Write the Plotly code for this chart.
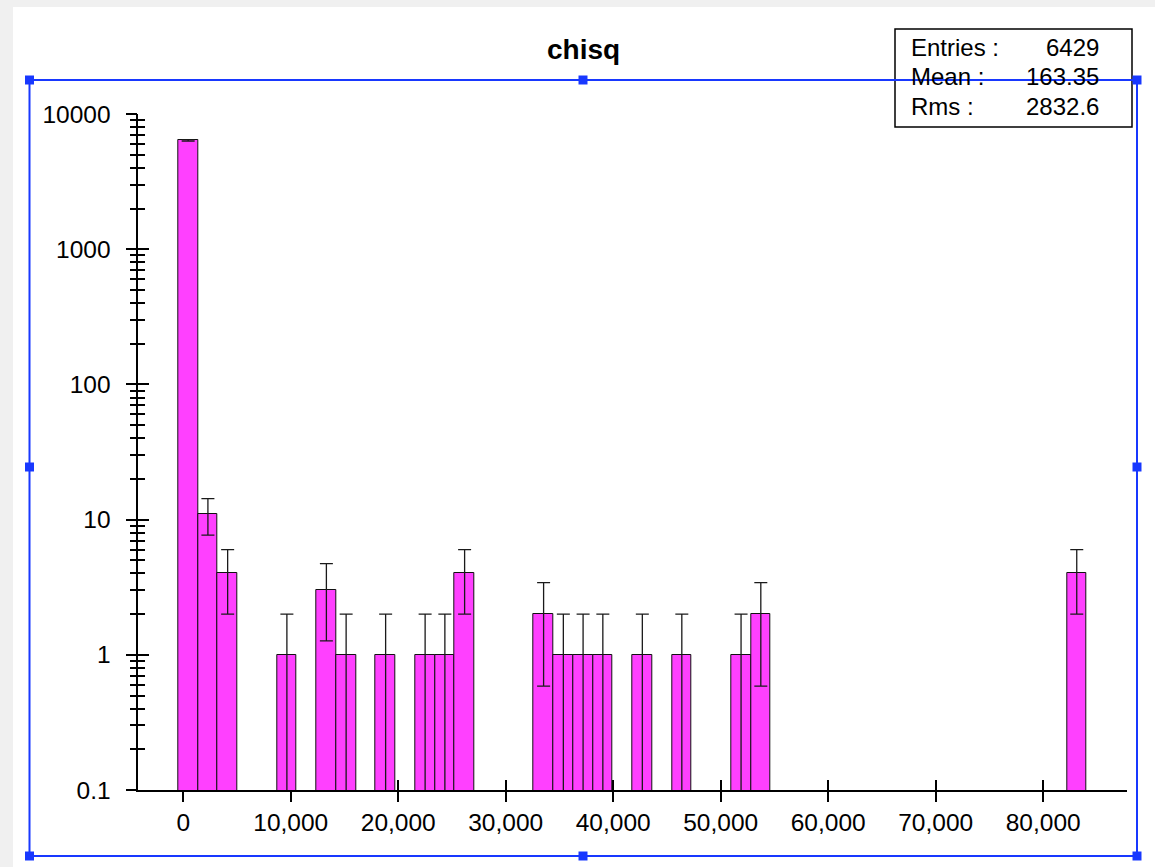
import plotly.graph_objects as go

# Histogram of chisq: 46 equal-width bins, only the filled ones are listed
BIN_LO = -460.0
BIN_WIDTH = 1837.0
bin_index = [0, 1, 2, 5, 7, 8, 10, 12, 13, 14, 18, 19, 20, 21, 23, 25, 28, 29, 45]
counts = [6388, 11, 4, 1, 3, 1, 1, 1, 1, 4, 2, 1, 1, 1, 1, 1, 1, 2, 4]

x_tick_vals = [0, 10000, 20000, 30000, 40000, 50000, 60000, 70000, 80000]
x_tick_text = ["0", "10,000", "20,000", "30,000", "40,000", "50,000", "60,000", "70,000", "80,000"]
y_tick_vals = [0.1, 1, 10, 100, 1000, 10000]
y_tick_text = ["0.1", "1", "10", "100", "1000", "10000"]

stat_names = ["Entries :", "Mean :", "Rms :"]
stat_values = ["6429", "163.35", "2832.6"]

W, H = 1155, 867
FONT = "Liberation Sans, Arial, Helvetica, sans-serif"
BLUE = "#1838ff"


def px(x):
    return x / W


def py(y):
    return 1 - y / H


centers = [BIN_LO + (i + 0.5) * BIN_WIDTH for i in bin_index]
errors = [c ** 0.5 for c in counts]

fig = go.Figure()
fig.add_trace(go.Bar(
    x=centers, y=counts, width=BIN_WIDTH,
    marker=dict(color="#ff40ff", line=dict(color="#111111", width=1)),
    error_y=dict(type="data", array=errors, symmetric=True,
                 color="#1a1a1a", thickness=1.3, width=6.5),
    showlegend=False, hoverinfo="skip",
))

x_dom = [px(138.3), px(1126.7)]
y_dom = [py(790), py(114)]
x_rng = [-4180, 87770]
y_rng = [-1, 4]

axis_font = dict(family=FONT, size=24.5, color="#000000")

fig.update_layout(
    template="none",
    width=W, height=H,
    margin=dict(l=0, r=0, t=0, b=0, pad=0),
    paper_bgcolor="#f0f0f0",
    plot_bgcolor="rgba(0,0,0,0)",
    bargap=0,
    xaxis=dict(
        domain=x_dom, range=x_rng, showgrid=False, zeroline=False, automargin=False,
        showline=True, linecolor="#000000", linewidth=1.6,
        ticks="outside", ticklen=10, tickwidth=1.8, tickcolor="#000000",
        tickvals=x_tick_vals, ticktext=x_tick_text, tickfont=axis_font,
        layer="below traces", anchor="y",
    ),
    xaxis2=dict(
        domain=x_dom, range=x_rng, overlaying="x", showgrid=False, zeroline=False,
        automargin=False,
        showline=False, ticks="inside", ticklen=10, tickwidth=1.8, tickcolor="#000000",
        tickvals=x_tick_vals, showticklabels=False, layer="below traces", anchor="y",
    ),
    yaxis=dict(
        domain=y_dom, type="log", range=y_rng, showgrid=False, zeroline=False,
        automargin=False,
        showline=True, linecolor="#000000", linewidth=1.6,
        ticks="outside", ticklen=11, tickwidth=1.8, tickcolor="#000000",
        tickvals=y_tick_vals, ticktext=y_tick_text, tickfont=axis_font,
        ticklabelstandoff=10,
        minor=dict(ticks="outside", ticklen=7, tickwidth=1.6, tickcolor="#000000",
                   dtick="D1", showgrid=False),
        anchor="x",
    ),
    yaxis2=dict(
        domain=y_dom, type="log", range=y_rng, overlaying="y", showgrid=False,
        zeroline=False, showline=False, automargin=False,
        ticks="inside", ticklen=11, tickwidth=1.8, tickcolor="#000000",
        tickvals=y_tick_vals, showticklabels=False,
        minor=dict(ticks="inside", ticklen=7, tickwidth=1.6, tickcolor="#000000",
                   dtick="D1", showgrid=False),
        anchor="x",
    ),
)

# companion trace so the tick-only overlay axes are drawn
fig.add_trace(go.Scatter(x=[None], y=[None], xaxis="x2", yaxis="y2",
                         showlegend=False, hoverinfo="skip"))

shapes = []
# white panel
shapes.append(dict(type="rect", xref="paper", yref="paper", layer="below",
                   x0=px(13), x1=1.0, y0=0.0, y1=py(7),
                   fillcolor="#ffffff", line=dict(width=0)))
# statistics box
shapes.append(dict(type="rect", xref="paper", yref="paper", layer="above",
                   x0=px(895), x1=px(1132), y0=py(127), y1=py(29),
                   fillcolor="#ffffff", line=dict(color="#000000", width=1.5)))
# selection frame
shapes.append(dict(type="rect", xref="paper", yref="paper", layer="above",
                   x0=px(29.5), x1=px(1137), y0=py(856), y1=py(80),
                   line=dict(color=BLUE, width=2)))
hs = 4.5
for hx in (29.5, 583, 1137):
    for hy in (80, 467, 856):
        if hx == 583 and hy == 467:
            continue
        shapes.append(dict(type="rect", xref="paper", yref="paper", layer="above",
                           x0=px(hx - hs), x1=px(hx + hs), y0=py(hy + hs), y1=py(hy - hs),
                           fillcolor=BLUE, line=dict(width=0)))
fig.update_layout(shapes=shapes)

annotations = [dict(text="<b>chisq</b>", x=px(583), y=py(50), xref="paper", yref="paper",
                    showarrow=False, xanchor="center", yanchor="middle",
                    font=dict(family=FONT, size=28, color="#000000"))]
for i, (name, val) in enumerate(zip(stat_names, stat_values)):
    yy = py(47 + i * 30)
    annotations.append(dict(text=name, x=px(909), y=yy, xref="paper", yref="paper",
                            showarrow=False, xanchor="left", yanchor="middle",
                            font=dict(family=FONT, size=24, color="#000000")))
    annotations.append(dict(text=val, x=px(1101), y=yy, xref="paper", yref="paper",
                            showarrow=False, xanchor="right", yanchor="middle",
                            font=dict(family=FONT, size=24, color="#000000")))
fig.update_layout(annotations=annotations)

fig.write_html("out.html")
